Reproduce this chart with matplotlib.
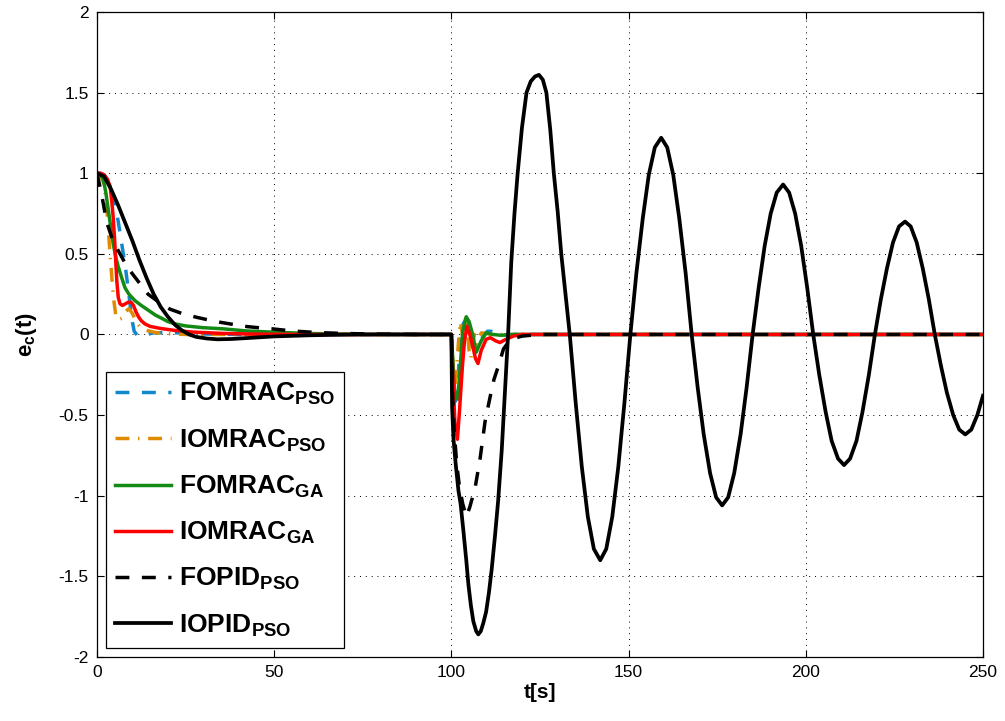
import matplotlib
matplotlib.use("Agg")
import matplotlib.pyplot as plt

plt.rcParams["font.family"] = ["Liberation Sans", "DejaVu Sans"]
plt.rcParams["mathtext.fontset"] = "custom"
plt.rcParams["mathtext.rm"] = "Liberation Sans:bold"
plt.rcParams["mathtext.bf"] = "Liberation Sans:bold"
plt.rcParams["mathtext.it"] = "Liberation Sans:bold"

# ---- data ----
t_fomrac_pso = [0, 1, 2, 3, 4, 5, 6, 7, 8, 9, 9.8, 10.5, 11.5, 13, 16, 20, 25, 30, 40,
                100, 100.4, 100.9, 101.5, 102.0, 102.5, 103.2, 104.0, 104.6, 105.3, 106.0,
                107.0, 108.0, 109.2, 110.2, 111.2, 112.5, 114, 116, 120, 250]
y_fomrac_pso = [1.0, 1.0, 0.99, 0.96, 0.9, 0.82, 0.7, 0.56, 0.42, 0.25, 0.1, 0.02, -0.01, -0.005, 0.01, 0.012, 0.008, 0.003, 0,
                0, -0.25, -0.42, -0.4, -0.23, -0.05, 0.06, 0.09, 0.06, -0.02, -0.08,
                -0.1, -0.05, 0.0, 0.02, 0.02, 0.005, -0.005, 0.0, 0.0, 0.0]

t_iomrac_pso = [0, 1, 2, 2.7, 3.2, 3.7, 4.2, 4.7, 5.3, 6, 7, 8, 9, 10, 11, 12, 14, 17, 20, 25,
                100, 100.5, 101, 101.5, 102, 102.5, 103, 103.5, 104, 104.5, 105, 105.5, 106,
                106.5, 107, 107.5, 108.5, 110, 112, 120, 250]
y_iomrac_pso = [1.0, 0.99, 0.93, 0.8, 0.65, 0.5, 0.35, 0.22, 0.12, 0.09, 0.1, 0.14, 0.16, 0.13, 0.08, 0.05, 0.025, 0.01, 0.005, 0,
                0, -0.2, -0.32, -0.2, -0.05, 0.08, 0.02, -0.06, 0.1, 0.03, -0.1, -0.15, -0.05,
                0.0, -0.06, -0.02, 0.01, 0.005, 0.0, 0.0, 0.0]

t_fomrac_ga = [0, 1, 1.8, 2.5, 3.2, 4, 4.6, 5.3, 6, 7, 7.9, 9, 10.7, 12.5, 14.5, 16.5, 18.3, 20, 22, 25,
               30, 35.6, 42, 50, 60, 70, 80,
               100, 100.5, 101.0, 101.8, 102.5, 103.2, 104.2, 105.0, 106.0, 107.0, 108.4, 109.8,
               111.7, 114, 118, 250]
y_fomrac_ga = [1.0, 0.99, 0.96, 0.88, 0.77, 0.65, 0.56, 0.48, 0.42, 0.35, 0.29, 0.25, 0.21, 0.18, 0.15, 0.12, 0.1, 0.08, 0.066, 0.053,
               0.042, 0.035, 0.022, 0.014, 0.006, 0.002, 0,
               0, -0.2, -0.38, -0.4, -0.2, 0.02, 0.11, 0.08, 0.0, -0.11, -0.04, 0.01,
               0.0, -0.005, 0.0, 0.0]

t_iomrac_ga = [0, 1, 2, 3, 3.7, 4.2, 4.6, 5.0, 5.3, 5.6, 6.0, 6.5, 7.2, 8.0, 8.8, 9.6, 10.3, 11, 11.7,
               12.5, 13.5, 15, 18, 22, 27, 35, 45, 60,
               100, 100.5, 101.0, 101.7, 102.3, 103.1, 103.7, 104.4, 105.2, 106.0, 106.8, 107.5,
               108.4, 109.8, 111.0, 112.5, 113.7, 115.4, 117.5, 120, 250]
y_iomrac_ga = [1.0, 1.0, 0.99, 0.96, 0.92, 0.82, 0.72, 0.58, 0.45, 0.33, 0.23, 0.19, 0.18, 0.19, 0.2, 0.2, 0.18, 0.14, 0.11,
               0.085, 0.066, 0.05, 0.037, 0.025, 0.015, 0.007, 0.002, 0,
               0, -0.3, -0.55, -0.65, -0.47, -0.2, -0.04, 0.05, 0.0, -0.07, -0.15, -0.18,
               -0.1, -0.03, -0.02, -0.04, -0.05, -0.03, -0.01, 0.0, 0.0]

t_fopid_pso = [0, 0.5, 1.3, 2.7, 4.5, 6.5, 8.5, 10.2, 12.3, 14.4, 17.5, 20.6, 24, 28.2, 31.5, 34.7,
               38.5, 42.3, 46, 49.4, 55, 62, 70, 80, 90,
               100, 100.3, 100.8, 101.5, 102.3, 103.2, 104.2, 105.2, 106.7, 108.1, 109.5,
               110.9, 112.0, 113.2, 114.7, 116, 117.5, 120, 125, 250]
y_fopid_pso = [1.0, 0.95, 0.87, 0.7, 0.58, 0.5, 0.42, 0.37, 0.31, 0.25, 0.2, 0.157, 0.13, 0.106, 0.09, 0.076,
               0.062, 0.049, 0.041, 0.035, 0.022, 0.012, 0.006, 0.002, 0.0,
               0, -0.35, -0.6, -0.8, -0.95, -1.05, -1.13, -1.07, -0.95, -0.77, -0.54,
               -0.39, -0.28, -0.2, -0.09, -0.05, -0.025, -0.01, 0.0, 0.0]

t_iopid_pso = [0, 2, 4, 6, 8, 10, 12, 14, 16, 18, 20, 22, 24, 26, 28, 31, 34, 38, 44, 50, 60, 70, 80,
               100, 100.2, 100.6, 101.2, 102.0, 102.6, 103.4, 104.2, 104.8, 105.5, 106.2, 107.0,
               107.6, 108.3, 109.0, 109.8, 110.6, 111.4, 112.3, 113.2, 114.2, 115.0, 116.0,
               116.9, 117.8, 118.7, 119.9, 121.2, 122.4, 123.6, 124.7, 125.8, 126.8, 127.9,
               128.9, 130.0, 131.0, 132.2, 133.4,
               135.1, 136.8, 138.5, 140.2, 142.0, 143.7, 145.4, 147.1, 148.8, 150.5,
               152.2, 154.0, 155.7, 157.4, 159.2, 160.9, 162.6, 164.3, 166.1, 167.8,
               169.5, 171.2, 173.0, 174.7, 176.4, 178.1, 179.8, 181.6, 183.3, 185.0,
               186.7, 188.4, 190.1, 191.8, 193.6, 195.3, 197.0, 198.7, 200.4, 202.1,
               203.8, 205.6, 207.3, 209.1, 210.8, 212.5, 214.3, 216.0, 217.8, 219.5,
               221.2, 222.9, 224.6, 226.3, 228.0, 229.6, 231.3, 233.0, 234.7, 236.4,
               238.1, 239.8, 241.6, 243.3, 245.0, 246.7, 248.4, 250.0]
y_iopid_pso = [1.0, 0.98, 0.9, 0.8, 0.69, 0.58, 0.46, 0.35, 0.25, 0.17, 0.11, 0.06, 0.025, 0.0, -0.015, -0.025, -0.03, -0.028, -0.02, -0.012, -0.005, -0.001, 0.0,
               0, -0.45, -0.65, -0.8, -0.97, -1.05, -1.22, -1.4, -1.55, -1.68, -1.78, -1.84,
               -1.86, -1.84, -1.79, -1.72, -1.6, -1.45, -1.25, -1.03, -0.72, -0.4, 0.0,
               0.45, 0.75, 1.0, 1.28, 1.5, 1.57, 1.6, 1.61, 1.58, 1.5, 1.27,
               1.0, 0.76, 0.5, 0.25, 0.0,
               -0.43, -0.82, -1.13, -1.33, -1.4, -1.33, -1.13, -0.82, -0.43, 0.0,
               0.38, 0.72, 0.99, 1.16, 1.22, 1.16, 0.99, 0.72, 0.38, 0.0,
               -0.33, -0.62, -0.86, -1.01, -1.06, -1.01, -0.86, -0.62, -0.33, 0.0,
               0.29, 0.55, 0.75, 0.88, 0.93, 0.88, 0.75, 0.55, 0.29, 0.0,
               -0.25, -0.48, -0.66, -0.77, -0.81, -0.77, -0.66, -0.48, -0.25, 0.0,
               0.22, 0.41, 0.57, 0.67, 0.7, 0.67, 0.57, 0.41, 0.22, 0.0,
               -0.19, -0.36, -0.5, -0.59, -0.62, -0.59, -0.5, -0.38]

labels = [r"$\mathbf{FOMRAC_{PSO}}$", r"$\mathbf{IOMRAC_{PSO}}$", r"$\mathbf{FOMRAC_{GA}}$",
          r"$\mathbf{IOMRAC_{GA}}$", r"$\mathbf{FOPID_{PSO}}$", r"$\mathbf{IOPID_{PSO}}$"]

fig = plt.figure(figsize=(10.05, 7.21), dpi=100)
ax = fig.add_axes([0.0965, 0.0888, 0.8816, 0.8946])

ax.plot(t_fomrac_pso, y_fomrac_pso, color="#1188CC", lw=2.5, dashes=(4, 3.6), label=labels[0])
ax.plot(t_iomrac_pso, y_iomrac_pso, color="#E08A00", lw=2.5, dashes=(4, 2.5, 0.4, 2.5), label=labels[1])
ax.plot(t_fomrac_ga, y_fomrac_ga, color="#138A13", lw=2.5, label=labels[2])
ax.plot(t_iomrac_ga, y_iomrac_ga, color="#FF0000", lw=2.5, label=labels[3])
ax.plot(t_fopid_pso, y_fopid_pso, color="black", lw=2.5, dashes=(4, 3.6), label=labels[4])
ax.plot(t_iopid_pso, y_iopid_pso, color="black", lw=2.7, label=labels[5])

ax.set_xlim(0, 250)
ax.set_ylim(-2, 2)
ax.set_xticks(range(0, 251, 50))
ax.set_yticks([-2, -1.5, -1, -0.5, 0, 0.5, 1, 1.5, 2])
ax.set_yticklabels(["-2", "-1.5", "-1", "-0.5", "0", "0.5", "1", "1.5", "2"])
ax.tick_params(direction="in", top=True, right=True, labelsize=12.5, length=5, width=0.8, pad=6)
ax.grid(True, color="black", linestyle=(0, (1, 5)), linewidth=0.7)
for sp in ax.spines.values():
    sp.set_linewidth(0.9)

ax.set_xlabel("t[s]", fontsize=15, fontweight="bold", labelpad=2)
ax.set_ylabel(r"$\mathbf{e_c(t)}$", fontsize=16, labelpad=14)

leg = ax.legend(loc="lower left", bbox_to_anchor=(0.0102, 0.014), borderaxespad=0,
                fontsize=19, fancybox=False, framealpha=1, edgecolor="black",
                handlelength=2.1, handletextpad=0.3, labelspacing=0.76, borderpad=0.35)
leg.get_frame().set_linewidth(0.9)

fig.savefig("out.png", dpi=100)
